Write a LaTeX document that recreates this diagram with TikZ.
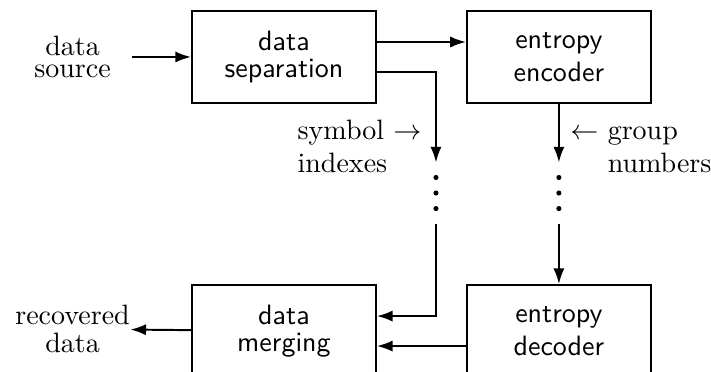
\documentclass[tikz,border=0pt]{standalone}
\usepackage{tikz}
\usetikzlibrary{arrows.meta,positioning}

\begin{document}
\begin{tikzpicture}[
  node distance=2.258cm and 1.116cm,
  box/.style={draw, line width=0.7pt, minimum width=65.7pt, minimum height=32.9pt, inner sep=0pt, font=\sffamily},
  lbl/.style={inner sep=0pt},
  gap/.style={inner sep=0pt, minimum width=0pt, minimum height=0.753cm},
  arrow/.style={-{Latex[length=5.6pt,width=4pt]}, line width=0.7pt}
]
  \useasboundingbox (0,0) rectangle (8.921,-4.667);

  \node[box] (sep) at (3.563,-0.715) {\shortstack{data\\separation}};
  \node[box, right=of sep] (enc) {\shortstack{entropy\\encoder}};
  \node[box, below=of sep] (merge) {\shortstack{data\\merging}};
  \node[box, below=of enc] (dec) {\shortstack{entropy\\decoder}};

  \node[lbl] (src) at (0.91,-0.715) {\shortstack{data\\source}};
  \node[lbl] (rec) at (0.91,-4.128) {\shortstack{recovered\\data}};
  \node[lbl, anchor=base west] (sym) at (3.727,-2.167) {\shortstack[l]{symbol $\rightarrow$\\indexes}};
  \node[lbl, anchor=base west] (grp) at (7.15,-2.167) {\shortstack[l]{$\leftarrow$ group\\\phantom{$\leftarrow$ }numbers}};

  \node[gap] (sgap) at (5.470,-2.422) {};
  \node[gap] (egap) at (enc |- sgap) {};
  \foreach \g in {sgap,egap}
    \foreach \d in {-1,0,1}
      \fill (\g.center) ++(0,\d*0.195) circle (0.032);

  \draw[arrow] ([xshift=7.5pt]src.east) -- (sep);
  \draw[arrow] ([yshift=.188cm]sep.east) -- ([yshift=.188cm]enc.west);
  \draw[arrow] ([yshift=-.188cm]sep.east) -| (sgap.north);
  \draw[arrow] (sgap.south) |- ([yshift=.188cm]merge.east);
  \draw[arrow] (enc) -- (egap.north);
  \draw[arrow] (egap.south) -- (dec);
  \draw[arrow] ([yshift=-.188cm]dec.west) -- ([yshift=-.188cm]merge.east);
  \draw[arrow] (merge) -- (rec);
\end{tikzpicture}
\end{document}
